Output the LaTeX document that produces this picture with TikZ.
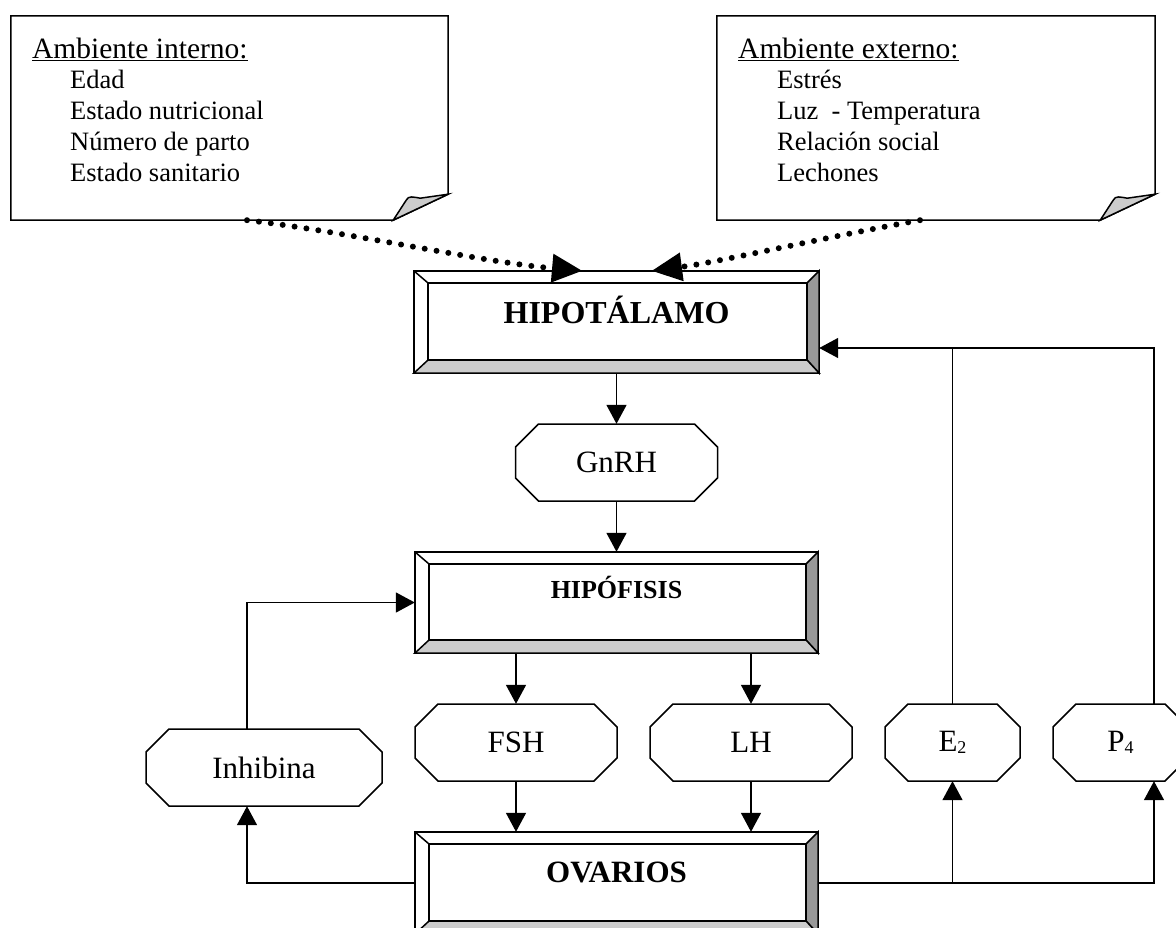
\documentclass[tikz,border=0pt]{standalone}
\usepackage{fontspec}
\setmainfont{Liberation Serif}
\usetikzlibrary{arrows.meta}
\definecolor{bevdark}{HTML}{999999}
\definecolor{bevlight}{HTML}{CCCCCC}
\definecolor{wm}{HTML}{C0C1C3}
\newcommand{\hdrfont}{\fontsize{29.5pt}{31pt}\selectfont}
\newcommand{\itmfont}{\fontsize{26.5pt}{31pt}\selectfont}
\newcommand{\octfont}{\fontsize{31pt}{31pt}\selectfont}
\newcommand{\lowidx}[1]{{\fontsize{18pt}{18pt}\selectfont\raisebox{-2pt}{#1}}}
\newcommand{\bevbox}[1]{%
 \filldraw[bl, fill=white] (#1.north west) rectangle (#1.south east);
 \filldraw[bl, fill=bevdark] (#1.north east) -- ([shift={(-12pt,-12pt)}]#1.north east) -- ([shift={(-12pt,13pt)}]#1.south east) -- (#1.south east) -- cycle;
 \filldraw[bl, fill=bevlight] (#1.south west) -- ([shift={(14pt,13pt)}]#1.south west) -- ([shift={(-12pt,13pt)}]#1.south east) -- (#1.south east) -- cycle;
 \draw[bl] (#1.north west) -- ([shift={(14pt,-12pt)}]#1.north west);
 \draw[bl] ([shift={(14pt,-12pt)}]#1.north west) rectangle ([shift={(-12pt,13pt)}]#1.south east);
}
\newcommand{\octnode}[6]{%
 \filldraw[bl, fill=white] ({#2-#4/2+23},{#3-#5/2}) -- ({#2+#4/2-23},{#3-#5/2}) -- ({#2+#4/2},{#3-#5/2+23}) -- ({#2+#4/2},{#3+#5/2-23}) -- ({#2+#4/2-23},{#3+#5/2}) -- ({#2-#4/2+23},{#3+#5/2}) -- ({#2-#4/2},{#3+#5/2-23}) -- ({#2-#4/2},{#3-#5/2+23}) -- cycle;
 \node[octtext, minimum width=#4pt, minimum height=#5pt] (#1) at (#2,#3) {#6};
}
\newcommand{\notebox}[1]{%
 \filldraw[bl, fill=white] (#1.north west) -- (#1.north east) -- ([yshift=26pt]#1.south east) -- ([xshift=-55pt]#1.south east) -- (#1.south west) -- cycle;
 \filldraw[bl, fill=bevlight] ([xshift=-55pt]#1.south east) -- ([shift={(-42pt,20pt)}]#1.south east) .. controls ([shift={(-40pt,25pt)}]#1.south east) and ([shift={(-34pt,23pt)}]#1.south east) .. ([shift={(-28pt,22pt)}]#1.south east) -- ([yshift=26pt]#1.south east) -- cycle;
}
\begin{document}
\begin{tikzpicture}[x=1pt,y=-1pt,
  bl/.style={line width=1.5pt, line join=miter},
  arr/.style={bl, -{Triangle[width=20pt,length=19pt]}},
  dotarr/.style={line width=6pt, line cap=round, dash pattern=on 0pt off 12pt, -{Triangle[width=29pt,length=30pt,line width=0pt]}},
  boxn/.style={draw=none, inner sep=0pt},
  octtext/.style={draw=none, inner sep=0pt, font=\octfont},
  txt/.style={inner sep=0pt, anchor=base west},
  lbl/.style={inner sep=0pt, anchor=base}]
\useasboundingbox (0,0) rectangle (1176,927);
\clip (0,0) rectangle (1176,927);
\fill[white] (0,0) rectangle (1176,927);

% notes
\node[boxn, minimum width=437pt, minimum height=204pt] (intnote) at (229.5,118) {};
\notebox{intnote}
\node[txt, font=\hdrfont] (inth) at (32,58) {Ambiente interno:};
\draw[line width=1pt] ([yshift=-2.5pt]inth.base west) -- ([yshift=-2.5pt]inth.base east);
\node[txt, font=\itmfont] (int1) at (70,88) {Edad};
\node[txt, font=\itmfont] (int2) at (70,119) {Estado nutricional};
\node[txt, font=\itmfont] (int3) at (70,150) {Número de parto};
\node[txt, font=\itmfont] (int4) at (70,181) {Estado sanitario};

\node[boxn, minimum width=438pt, minimum height=204pt] (extnote) at (936,118) {};
\notebox{extnote}
\node[txt, font=\hdrfont] (exth) at (738,58) {Ambiente externo:};
\draw[line width=1pt] ([yshift=-2.5pt]exth.base west) -- ([yshift=-2.5pt]exth.base east);
\node[txt, font=\itmfont] (ext1) at (777,88) {Estrés};
\node[txt, font=\itmfont] (ext2) at (777,119) {Luz\ \ - Temperatura};
\node[txt, font=\itmfont] (ext3) at (777,150) {Relación social};
\node[txt, font=\itmfont] (ext4) at (777,181) {Lechones};

% bevel boxes
\node[boxn, minimum width=405pt, minimum height=102pt] (hipot) at (616.5,322) {};
\bevbox{hipot}
\node[lbl, font=\fontsize{32pt}{32pt}\selectfont\bfseries] (hipott) at (616.5,323) {HIPOTÁLAMO};

\node[boxn, minimum width=403pt, minimum height=101pt] (hipof) at (616.5,602.5) {};
\bevbox{hipof}
\node[lbl, font=\fontsize{26pt}{26pt}\selectfont\bfseries] (hipoft) at (616.5,598) {HIPÓFISIS};

\node[boxn, minimum width=403pt, minimum height=102pt] (ovar) at (616.5,883) {};
\bevbox{ovar}
\node[lbl, font=\fontsize{31pt}{31pt}\selectfont\bfseries] (ovart) at (616.5,882) {OVARIOS};

% octagons
\octnode{gnrh}{616.5}{462.5}{202}{77}{GnRH}
\octnode{fsh}{516}{742.5}{202}{77}{FSH}
\octnode{lh}{751}{742.5}{202}{77}{LH}
\octnode{e2}{952.5}{742.5}{135}{77}{E\lowidx{2}}
\octnode{p4}{1120.5}{742.5}{135}{77}{P\lowidx{4}}
\octnode{inh}{264}{767.5}{236}{77}{Inhibina}

% dotted influences
\draw[dotarr] ([xshift=17.5pt]intnote.south) .. controls +(103,12) and +(-102,-9) .. ([xshift=-34.5pt]hipot.north);
\draw[dotarr] ([xshift=-16pt]extnote.south) .. controls +(-90,16) and +(68,-9) .. ([xshift=35.5pt]hipot.north);

% connectors
\coordinate (fbin) at ([yshift=-26pt]hipot.east);
\draw[arr] (hipot.south) -- (gnrh.north);
\draw[arr] (gnrh.south) -- (hipof.north);
\draw[arr] (hipof.south -| fsh.north) -- (fsh.north);
\draw[arr] (hipof.south -| lh.north) -- (lh.north);
\draw[arr] (fsh.south) -- (fsh.south |- ovar.north);
\draw[arr] (lh.south) -- (lh.south |- ovar.north);
\draw[arr] (ovar.west) -| ([xshift=-17pt]inh.south);
\draw[arr] ([xshift=-17pt]inh.north) |- (hipof.west);
\draw[arr] (ovar.east) -| (e2.south);
\draw[arr] (ovar.east) -| ([xshift=33.5pt]p4.south);
\draw[arr] ([xshift=33.5pt]p4.north) |- (fbin);
\draw[bl] (e2.north) -- (e2.north |- fbin);
\end{tikzpicture}
\end{document}
